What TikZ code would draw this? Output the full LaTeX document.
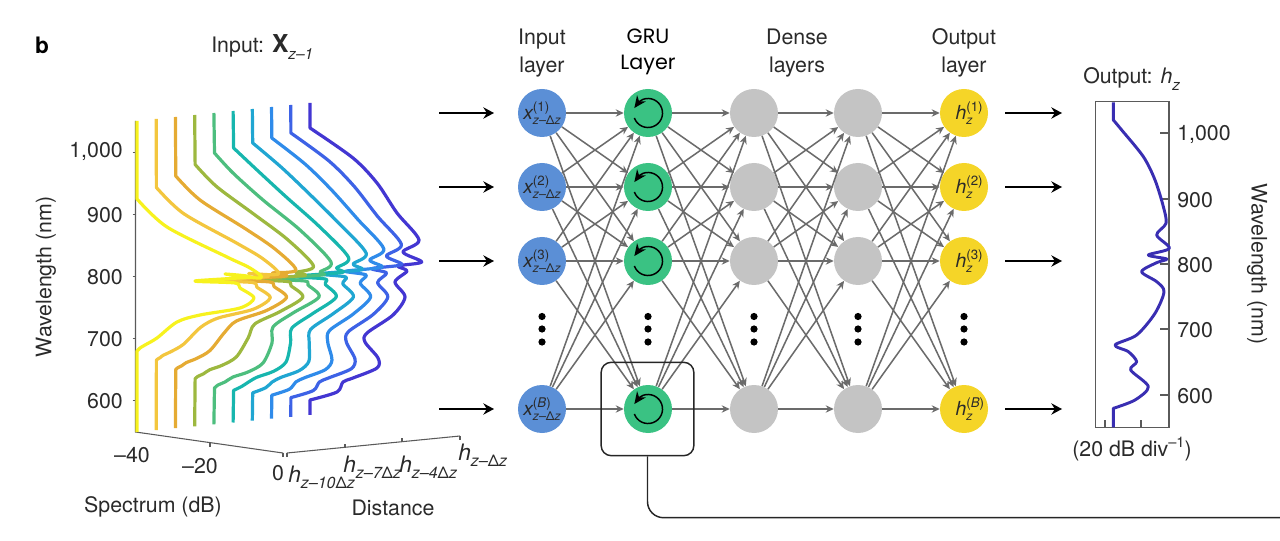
\documentclass[tikz,border=0pt]{standalone}
\usepackage{fontspec}
\setmainfont{TeX Gyre Heros}
\newfontfamily\grufont{Poppins}
\usetikzlibrary{arrows.meta,bending}
\definecolor{spec0}{HTML}{F7F21E}
\definecolor{spec1}{HTML}{F3C63E}
\definecolor{spec2}{HTML}{E5AB33}
\definecolor{spec3}{HTML}{9DB83F}
\definecolor{spec4}{HTML}{4DBE7E}
\definecolor{spec5}{HTML}{17B6AE}
\definecolor{spec6}{HTML}{20A6D2}
\definecolor{spec7}{HTML}{2F8BEA}
\definecolor{spec8}{HTML}{3D62E6}
\definecolor{spec9}{HTML}{4336D2}
\definecolor{inblue}{HTML}{5B8FD6}
\definecolor{grugreen}{HTML}{3AC283}
\definecolor{densegray}{HTML}{C4C4C4}
\definecolor{outyellow}{HTML}{F5D528}
\definecolor{axisgray}{HTML}{5A5A5A}
\definecolor{txt}{HTML}{2A2A2A}
\newcommand\dz{{\upshape Δ}}
\newcommand\nlabel[3]{{\fontsize{14.5}{15}\selectfont\itshape #1}\makebox[0pt][l]{\raisebox{.6em}{\fontsize{10}{10}\selectfont #2}}\raisebox{-.36em}{\fontsize{9.2}{9}\selectfont\itshape #3}}
\newcommand\hsub[1]{{\fontsize{17}{17}\selectfont\itshape h}\raisebox{-.3em}{\fontsize{12}{12}\selectfont\itshape #1}}
\def\specdata{137/199/214.5/153/310/128,
167/227/233/173/353/158,
227/257/263/200/377/183,
250/268/300/230/397/213,
261/278/331/262/419/240,
225/274/320/272/403/252,
250/277/322/275/421.7/262,
195/281/268/279/398/266,
235/283/305/281/407/271,
240/288/308/285/395/282,
254/298/319/297/405/297,
240/308/293/313/393/315,
200/315/273/327/367/333,
177/322/272/343/365/342,
157/338/263/363/378/358,
145/345/248/372/377/368,
140/348/233/377/353/378,
138.5/349.5/225/382/343/382,
137.5/350.5/218/385/337/392,
137/351/214.5/388/310/400}
\begin{document}
\begin{tikzpicture}[x=0.75pt,y=-0.75pt,
  base/.style={font=\fontsize{16}{19}\selectfont,text=txt,inner sep=0pt},
  axisline/.style={axisgray,line width=0.8pt},
  speccurve/.style={line width=2.4pt,line cap=butt,line join=round},
  neuron/.style={circle,minimum size=36pt,inner sep=0pt,text=txt},
  link/.style={draw=axisgray!90,line width=1.15pt,-{Stealth[length=6pt,width=5.5pt]}},
  bigarrow/.style={black,line width=1.15pt,-{Stealth[length=8pt,width=8.5pt]}},
  loopline/.style={black,line width=1.1pt,-{Stealth[length=9pt,width=8pt]}},
  dotmark/.style={fill=black}]
\useasboundingbox (0,0) rectangle (1280,541);
% ---- left plot axes
\draw[axisline] (135.5,121) -- (135.5,432) -- (283,453);
\draw[axisline] (287,453) -- (460,436);
\foreach \y in {152.5,214.7,276.7,338.5,400.5} \draw[axisline] (132.5,\y) -- (135.5,\y);
\draw[axisline] (210,443) -- (210,446.5);
\draw[axisline] (283,453) -- (283,456.5);
\draw[axisline] (287,453) -- (287,456.5);
\draw[axisline] (345,447) -- (345,443.5);
\draw[axisline] (402,441) -- (402,437.5);
\draw[axisline] (460,436) -- (460,439.5);
% ---- spectra
\foreach \i in {9,8,...,0}{
  \gdef\pts{}
  \foreach \ax/\ay/\bx/\by/\cx/\cy in \specdata {
    \ifnum\i<5
      \pgfmathsetmacro\px{\ax+(\bx-\ax)*\i/4}
      \pgfmathsetmacro\py{\ay+(\by-\ay)*\i/4}
    \else
      \pgfmathsetmacro\px{\bx+(\cx-\bx)*(\i-4)/5}
      \pgfmathsetmacro\py{\by+(\cy-\by)*(\i-4)/5}
    \fi
    \xdef\pts{\pts (\px,\py)}
  }
  \pgfmathsetmacro\topx{137+19.22*\i}
  \pgfmathsetmacro\topy{121-2*\i}
  \pgfmathsetmacro\boty{432-1.9*\i}
  \edef\cmd{\noexpand\draw[speccurve,color=spec\i] (\topx,\topy) -- plot[smooth,tension=.5] coordinates {\pts} -- (\topx,\boty);}
  \cmd
}
% ---- left plot labels
\node[base,font=\fontsize{17}{19}\selectfont\bfseries,text=black] (panel) at (42,45) {b};
\node[base,anchor=west] (inputlab) at (211,47) {Input: {\fontsize{18.5}{19}\selectfont\bfseries X}\raisebox{-.3em}{\fontsize{11.5}{12}\selectfont\itshape z–1}};
\node[base,anchor=east] (l1000) at (123,152) {1,000};
\node[base,anchor=east] (l900) at (123,215) {900};
\node[base,anchor=east] (l800) at (123,277) {800};
\node[base,anchor=east] (l700) at (123,339) {700};
\node[base,anchor=east] (l600) at (123,401) {600};
\node[base,rotate=90] (wl) at (46,277) {Wavelength (nm)};
\node[base] (s40) at (132,455) {–40};
\node[base] (s20) at (200,466) {–20};
\node[base] (s0) at (278,473) {0};
\node[base,anchor=base west] (h10) at (288,482) {\hsub{z–10\dz z}};
\node[base,anchor=base west] (h7) at (343,472) {\hsub{z–7\dz z}};
\node[base,anchor=base west] (h4) at (399,472) {\hsub{z–4\dz z}};
\node[base,anchor=base west] (h1) at (458,460) {\hsub{z–\dz z}};
\node[base] (spec) at (153,507) {Spectrum (dB)};
\node[base] (dist) at (393,508) {Distance};
% ---- column headers
\node[base,align=center] (hin) at (542,53) {Input\\[1.5pt]layer};
\node[base,align=center,font=\fontsize{15.5}{19.5}\grufont\selectfont,text=black] (hgru) at (648,52) {GRU\\Layer};
\node[base,align=center] (hden) at (797,53) {Dense\\[1.5pt]layers};
\node[base,align=center] (hout) at (964,53) {Output\\[1.5pt]layer};
% ---- network
\foreach \r/\y/\t in {1/113/(1),2/187/(2),3/261/(3),4/409/(\textit{B})}{
  \node[neuron,fill=inblue] (in-\r) at (542,\y) {\nlabel{x}{\t}{z–\dz z}};
  \node[neuron,fill=grugreen] (gru-\r) at (648,\y) {};
  \node[neuron,fill=densegray] (da-\r) at (754,\y) {};
  \node[neuron,fill=densegray] (db-\r) at (858,\y) {};
  \node[neuron,fill=outyellow] (out-\r) at (964,\y) {\nlabel{h}{\t}{z}};
  \draw[loopline] ([shift={(200:10.9pt)}]gru-\r.center) arc[start angle=200,end angle=520,radius=10.9pt];
  \coordinate (ia-\r) at (439,\y);
  \coordinate (ib-\r) at (494,\y);
  \coordinate (oa-\r) at (1005,\y);
  \coordinate (ob-\r) at (1062,\y);
  \draw[bigarrow] (ia-\r) -- (ib-\r);
  \draw[bigarrow] (oa-\r) -- (ob-\r);
}
\foreach \a/\b in {in/gru,gru/da,da/db,db/out}
  \foreach \r in {1,2,3,4}
    \foreach \s in {1,2,3,4}
      \draw[link] (\a-\r) -- (\b-\s);
\foreach \x in {542,648,754,858,964}
  \foreach \y in {316.5,329,342}
    \fill[dotmark] (\x,\y) circle[radius=2.7pt];
% ---- highlight box and connector
\node[draw=black!85,line width=1.1pt,rounded corners=7.5pt,minimum width=69.5pt,minimum height=70pt,inner sep=0pt] (box) at (647.5,409) {};
\coordinate (exit) at (1280,517.7);
\draw[black!85,line width=1.1pt,rounded corners=12pt] (box.south) |- (exit);
% ---- right plot
\draw[axisline] (1095.7,101.7) rectangle (1169,427.7);
\foreach \y in {133,199,264,329,395} \draw[axisline] (1160,\y) -- (1169,\y);
\foreach \x in {1105,1141} \draw[axisline] (\x,427.7) -- (\x,420);
\begin{scope}[shift={(1060,60)},x=0.25pt,y=-0.25pt]
\draw[line width=2.2pt,color=spec9!85!black,line join=round] (160,127) -- plot[smooth,tension=.5] coordinates {(160,180)(185,210)(250,290)(285,360)(310,440)(318,490)(290,525)(328,565)(265,585)(320,597)(290,608)(245,635)(290,665)(312,695)(285,760)(230,825)(165,855)(205,875)(230,905)(212,930)(265,980)(225,1020)(160,1045)} -- (160,1102);
\end{scope}
\node[base,anchor=west] (olab) at (1083,79) {Output: {\itshape h}\raisebox{-.3em}{\fontsize{11.5}{12}\selectfont\itshape z}};
\node[base,anchor=west] (r1000) at (1177,135) {1,000};
\node[base,anchor=west] (r900) at (1177,200) {900};
\node[base,anchor=west] (r800) at (1177,265) {800};
\node[base,anchor=west] (r700) at (1177,330) {700};
\node[base,anchor=west] (r600) at (1177,396) {600};
\node[base,rotate=-90] (wr) at (1257,264) {Wavelength (nm)};
\node[base] (div) at (1132,449) {(20 dB div\raisebox{.42em}{\fontsize{11}{12}\selectfont –1})};
\end{tikzpicture}
\end{document}
